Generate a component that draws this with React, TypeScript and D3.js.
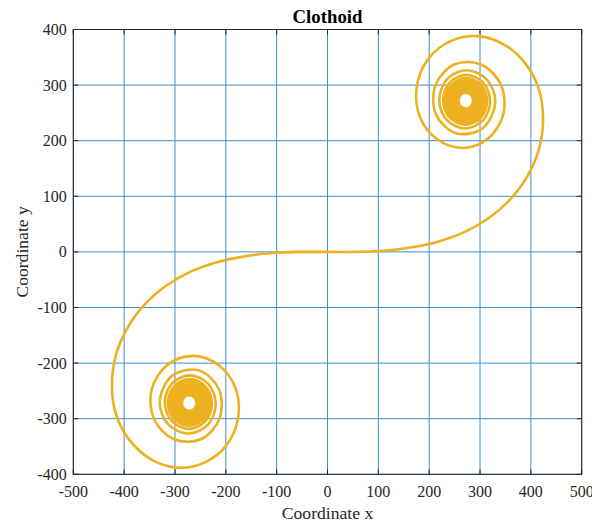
import React from "react";
import * as d3 from "d3";

// Clothoid points (data units) along the arm that runs from the origin
// out to the upper-right spiral, ending where the windings close up.
const rightArmX = [
  0, 54, 109, 163, 216, 268, 316, 359, 393, 416, 424, 416, 389, 347, 295, 242,
  199, 176, 181, 215, 266, 316, 346, 341, 302, 249, 212, 214, 254, 306, 330,
  313.1, 273.7, 235.4, 219.8, 234.9, 270.7, 305.8, 320.0, 306.1, 273.1, 240.6,
  227.3, 240.3, 271.1, 301.6, 314.0, 301.8, 272.7, 244.0, 232.3, 243.8, 271.4,
  298.6, 309.8, 298.8, 272.5, 246.6, 235.9, 246.4, 271.5,
];
const rightArmY = [
  0, 0, 2, 8, 18, 35, 60, 94, 136, 185, 238, 292, 339, 373, 388, 379, 348, 299,
  245, 203, 187, 204, 248, 301, 337, 337, 299, 246, 213, 223, 270, 310.4, 326.8,
  310.9, 273.5, 236.9, 222.0, 236.5, 270.8, 304.5, 318.3, 304.9, 273.0, 241.5,
  228.7, 241.3, 271.2, 300.7, 312.8, 301.0, 272.7, 244.7, 233.3, 244.5, 271.4,
  298.0, 308.9, 298.2, 272.5, 247.1, 236.7,
];

// The arm from the origin out to the lower-left spiral.
const leftArmX = [
  0, -54, -109, -163, -216, -268, -316, -359, -393, -416, -424, -416, -389,
  -347, -295, -242, -199, -176, -181, -215, -266, -316, -346, -341, -302, -249,
  -212, -214, -254, -306, -330, -313.1, -273.7, -235.4, -219.8, -234.9, -270.7,
  -305.8, -320.0, -306.1, -273.1, -240.6, -227.3, -240.3, -271.1, -301.6,
  -314.0, -301.8, -272.7, -244.0, -232.3, -243.8, -271.4, -298.6, -309.8,
  -298.8, -272.5, -246.6, -235.9, -246.4, -271.5,
];
const leftArmY = [
  0, 0, -2, -8, -18, -35, -60, -94, -136, -185, -238, -292, -339, -373, -388,
  -379, -348, -299, -245, -203, -187, -204, -248, -301, -337, -337, -299, -246,
  -213, -223, -270, -310.4, -326.8, -310.9, -273.5, -236.9, -222.0, -236.5,
  -270.8, -304.5, -318.3, -304.9, -273.0, -241.5, -228.7, -241.3, -271.2,
  -300.7, -312.8, -301.0, -272.7, -244.7, -233.3, -244.5, -271.4, -298.0,
  -308.9, -298.2, -272.5, -247.1, -236.7,
];

// Densely wound cores of the two spirals: centre and ring radii (data units).
const coreCenterX = [272, -272];
const coreCenterY = [272, -272];
const coreInnerRadius = 12.5;
const coreOuterRadius = 36;

const xTicks = [-500, -400, -300, -200, -100, 0, 100, 200, 300, 400, 500];
const yTicks = [-400, -300, -200, -100, 0, 100, 200, 300, 400];

const WIDTH = 592;
const HEIGHT = 522;
const LEFT = 73.3;
const RIGHT = 581.7;
const TOP = 29.5;
const BOTTOM = 474.3;

const CURVE = "#EDB120";
const GRID = "#3c8dcb";
const AXIS = "#262626";
const FONT = "'Liberation Serif', 'Times New Roman', serif";
const TICK_LEN = 5;

export default function App() {
  const x = d3.scaleLinear().domain([-500, 500]).range([LEFT, RIGHT]);
  const y = d3.scaleLinear().domain([-400, 400]).range([BOTTOM, TOP]);

  const pts: [number, number][] = [];
  for (let i = leftArmX.length - 1; i >= 0; i--) pts.push([leftArmX[i], leftArmY[i]]);
  for (let i = 1; i < rightArmX.length; i++) pts.push([rightArmX[i], rightArmY[i]]);

  const line = d3
    .line<[number, number]>()
    .x((d) => x(d[0]))
    .y((d) => y(d[1]))
    .curve(d3.curveCatmullRom.alpha(0.5));

  const ellipse = (cx: number, cy: number, rx: number, ry: number) =>
    `M${cx - rx},${cy}A${rx},${ry} 0 1 0 ${cx + rx},${cy}A${rx},${ry} 0 1 0 ${cx - rx},${cy}Z`;

  const corePaths = coreCenterX.map((cxData, i) => {
    const cyData = coreCenterY[i];
    const cx = x(cxData);
    const cy = y(cyData);
    const rxo = x(cxData + coreOuterRadius) - cx;
    const ryo = cy - y(cyData + coreOuterRadius);
    const rxi = x(cxData + coreInnerRadius) - cx;
    const ryi = cy - y(cyData + coreInnerRadius);
    return ellipse(cx, cy, rxo, ryo) + ellipse(cx, cy, rxi, ryi);
  });

  return (
    <svg
      width={WIDTH}
      height={HEIGHT}
      style={{ position: "absolute", left: 0, top: 0, background: "#fff" }}
    >
      <rect x={LEFT} y={TOP} width={RIGHT - LEFT} height={BOTTOM - TOP} fill="#fff" />

      {/* grid */}
      <g stroke={GRID} strokeWidth={1}>
        {xTicks.map((t) => (
          <line key={"gx" + t} x1={x(t)} x2={x(t)} y1={TOP} y2={BOTTOM} />
        ))}
        {yTicks.map((t) => (
          <line key={"gy" + t} x1={LEFT} x2={RIGHT} y1={y(t)} y2={y(t)} />
        ))}
      </g>

      {/* clothoid */}
      <path d={line(pts) ?? ""} fill="none" stroke={CURVE} strokeWidth={2.6} strokeLinejoin="round" />
      {corePaths.map((d, i) => (
        <path key={"core" + i} d={d} fill={CURVE} fillRule="evenodd" stroke={CURVE} strokeWidth={0.8} />
      ))}

      {/* box and ticks */}
      <rect x={LEFT} y={TOP} width={RIGHT - LEFT} height={BOTTOM - TOP} fill="none" stroke={AXIS} strokeWidth={1} />
      <g stroke={AXIS} strokeWidth={1}>
        {xTicks.map((t) => (
          <g key={"tx" + t}>
            <line x1={x(t)} x2={x(t)} y1={BOTTOM} y2={BOTTOM - TICK_LEN} />
            <line x1={x(t)} x2={x(t)} y1={TOP} y2={TOP + TICK_LEN} />
          </g>
        ))}
        {yTicks.map((t) => (
          <g key={"ty" + t}>
            <line x1={LEFT} x2={LEFT + TICK_LEN} y1={y(t)} y2={y(t)} />
            <line x1={RIGHT} x2={RIGHT - TICK_LEN} y1={y(t)} y2={y(t)} />
          </g>
        ))}
      </g>

      {/* tick labels */}
      <g fontFamily={FONT} fontSize={16} fill={AXIS}>
        {xTicks.map((t) => (
          <text key={"lx" + t} x={x(t)} y={496.5} textAnchor="middle">
            {t}
          </text>
        ))}
        {yTicks.map((t) => (
          <text key={"ly" + t} x={66.8} y={y(t) + 5.5} textAnchor="end">
            {t}
          </text>
        ))}
      </g>

      {/* titles */}
      <text
        x={(LEFT + RIGHT) / 2}
        y={23}
        textAnchor="middle"
        fontFamily={FONT}
        fontWeight="bold"
        fontSize={18.8}
        fill="#000"
      >
        Clothoid
      </text>
      <text x={(LEFT + RIGHT) / 2} y={519} textAnchor="middle" fontFamily={FONT} fontSize={17.6} fill={AXIS}>
        Coordinate x
      </text>
      <text
        transform={`translate(28, ${(TOP + BOTTOM) / 2}) rotate(-90)`}
        textAnchor="middle"
        fontFamily={FONT}
        fontSize={17.6}
        fill={AXIS}
      >
        Coordinate y
      </text>
    </svg>
  );
}
